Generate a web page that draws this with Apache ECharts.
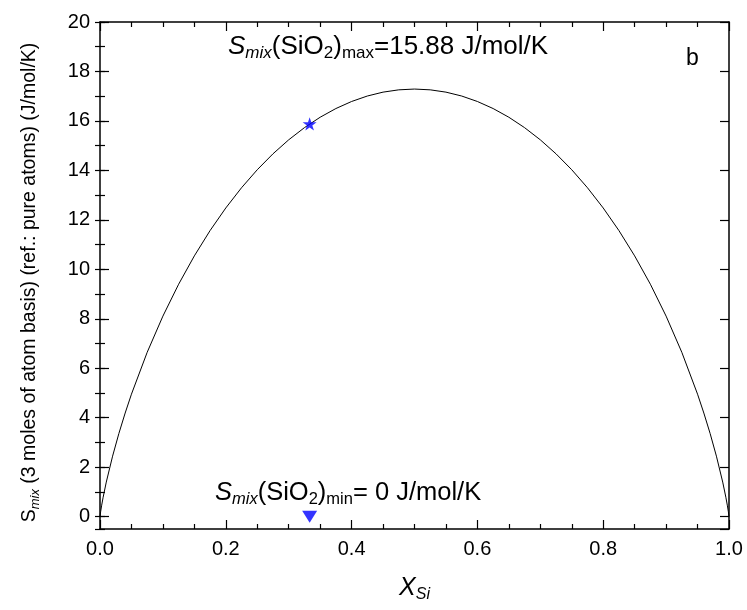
<!DOCTYPE html>
<html>
<head>
<meta charset="utf-8">
<script src="https://cdn.jsdelivr.net/npm/echarts@6/dist/echarts.min.js"></script>
<style>html,body{margin:0;padding:0;background:#fff}#c{width:747px;height:610px}</style>
</head>
<body>
<div id="c"></div>
<script>
// Ideal mixing entropy curve
const xSi = [0, 0.001, 0.0025, 0.005, 0.01, 0.02, 0.03, 0.04, 0.05, 0.075, 0.1, 0.125, 0.15, 0.175, 0.2, 0.225, 0.25, 0.275, 0.3, 0.325, 0.35, 0.375, 0.4, 0.425, 0.45, 0.475, 0.5,
  0.525, 0.55, 0.575, 0.6, 0.625, 0.65, 0.675, 0.7, 0.725, 0.75, 0.775, 0.8, 0.825, 0.85, 0.875, 0.9, 0.925, 0.95, 0.96, 0.97, 0.98, 0.99, 0.995, 0.9975, 0.999, 1];
const sMix = [0, 0.197, 0.436, 0.785, 1.397, 2.445, 3.361, 4.189, 4.951, 6.644, 8.108, 9.397, 10.543, 11.566, 12.481, 13.298, 14.026, 14.670, 15.236, 15.728, 16.149, 16.501, 16.786, 17.007, 17.164, 17.257, 17.289,
  17.257, 17.164, 17.007, 16.786, 16.501, 16.149, 15.728, 15.236, 14.670, 14.026, 13.298, 12.481, 11.566, 10.543, 9.397, 8.108, 6.644, 4.951, 4.189, 3.361, 2.445, 1.397, 0.785, 0.436, 0.197, 0];
// SiO2 composition markers
const markX = [0.3333];
const markMax = [15.88];
const markMin = [0];

const FONT = 'Liberation Sans, Arial, sans-serif';
const curve = xSi.map((x, i) => [x, sMix[i]]);
const starPath = 'path://M0,-100L22.45,-30.9L95.1,-30.9L36.3,11.8L58.8,80.9L0,38.2L-58.8,80.9L-36.3,11.8L-95.1,-30.9L-22.45,-30.9Z';

function richSet(main, sub) {
  return {
    S: {fontFamily: FONT, fontSize: main, fontStyle: 'italic', lineHeight: 30, verticalAlign: 'middle', color: '#000'},
    si: {fontFamily: FONT, fontSize: sub, fontStyle: 'italic', lineHeight: sub, verticalAlign: 'bottom', color: '#000'},
    n: {fontFamily: FONT, fontSize: main, lineHeight: 30, verticalAlign: 'middle', color: '#000'},
    sb: {fontFamily: FONT, fontSize: sub, lineHeight: sub, verticalAlign: 'bottom', color: '#000'}
  };
}

const tickLen = 9, minorLen = 5;
const axisLineStyle = {color: '#000', width: 1.5};
const tickStyle = {color: '#000', width: 1.2};

const chart = echarts.init(document.getElementById('c'), null, {renderer: 'canvas'});
chart.setOption({
  animation: false,
  backgroundColor: '#fff',
  grid: {left: 100, right: 18, top: 22, bottom: 81, containLabel: false},
  xAxis: [
    {
      type: 'value', position: 'bottom', min: 0, max: 1, interval: 0.2,
      axisLine: {show: true, onZero: false, lineStyle: axisLineStyle},
      axisTick: {show: true, inside: true, length: tickLen, lineStyle: tickStyle},
      minorTick: {show: true, splitNumber: 4, length: minorLen, lineStyle: tickStyle},
      splitLine: {show: false}, minorSplitLine: {show: false},
      axisLabel: {fontFamily: FONT, fontSize: 20, color: '#000', margin: 10, formatter: v => v.toFixed(1)},
      name: '{X|X}{s|Si}', nameLocation: 'middle', nameGap: 44,
      nameTextStyle: {rich: {
        X: {fontFamily: FONT, fontSize: 25, fontStyle: 'italic', color: '#000', lineHeight: 30, verticalAlign: 'middle'},
        s: {fontFamily: FONT, fontSize: 16, fontStyle: 'italic', color: '#000', lineHeight: 16, verticalAlign: 'bottom'}
      }}
    },
    {
      type: 'value', position: 'top', min: 0, max: 1, interval: 0.2,
      axisLine: {show: true, onZero: false, lineStyle: axisLineStyle},
      axisTick: {show: true, inside: true, length: tickLen, lineStyle: tickStyle},
      minorTick: {show: true, splitNumber: 4, length: minorLen, lineStyle: tickStyle},
      splitLine: {show: false}, axisLabel: {show: false}
    }
  ],
  yAxis: [
    {
      type: 'value', position: 'left', min: -0.5, max: 20, splitNumber: 10, minInterval: 2, maxInterval: 2,
      axisLine: {show: true, onZero: false, lineStyle: axisLineStyle},
      axisTick: {show: true, inside: true, length: tickLen, lineStyle: tickStyle},
      splitLine: {show: false},
      axisLabel: {fontFamily: FONT, fontSize: 20, color: '#000', margin: 10, showMinLabel: false,
        formatter: v => (v < 0 ? '' : String(v))},
      name: '{S|S}{m|mix}{t| (3 moles of atom basis) (ref.: pure atoms) (J/mol/K)}',
      nameLocation: 'middle', nameGap: 58, nameRotate: 90,
      nameTextStyle: {padding: [0, 14, 0, 0], rich: {
        S: {fontFamily: FONT, fontSize: 19.5, color: '#000', lineHeight: 24, verticalAlign: 'middle'},
        m: {fontFamily: FONT, fontSize: 13, fontStyle: 'italic', color: '#000', lineHeight: 13, verticalAlign: 'bottom'},
        t: {fontFamily: FONT, fontSize: 19.5, color: '#000', lineHeight: 24, verticalAlign: 'middle'}
      }}
    },
    {
      type: 'value', position: 'left', min: -0.5, max: 20, splitNumber: 20, minInterval: 1, maxInterval: 1,
      axisLine: {show: false},
      axisTick: {show: true, inside: true, length: minorLen, lineStyle: tickStyle},
      splitLine: {show: false}, axisLabel: {show: false}
    },
    {
      type: 'value', position: 'right', min: -0.5, max: 20, splitNumber: 10, minInterval: 2, maxInterval: 2,
      axisLine: {show: true, onZero: false, lineStyle: axisLineStyle},
      axisTick: {show: true, inside: true, length: tickLen, lineStyle: tickStyle},
      splitLine: {show: false}, axisLabel: {show: false}
    },
    {
      type: 'value', position: 'right', min: -0.5, max: 20, splitNumber: 20, minInterval: 1, maxInterval: 1,
      axisLine: {show: false},
      axisTick: {show: true, inside: true, length: minorLen, lineStyle: tickStyle},
      splitLine: {show: false}, axisLabel: {show: false}
    }
  ],
  series: [
    {
      type: 'line', xAxisIndex: 0, yAxisIndex: 0, data: curve, showSymbol: false, symbol: 'none',
      lineStyle: {color: '#000', width: 1}, smooth: false, z: 2
    },
    {
      type: 'scatter', xAxisIndex: 0, yAxisIndex: 0,
      data: markX.map((x, i) => [x, markMax[i]]),
      symbol: starPath, symbolSize: 14, symbolKeepAspect: true,
      itemStyle: {color: '#0000ff'}, z: 3
    },
    {
      type: 'scatter', xAxisIndex: 0, yAxisIndex: 0,
      data: markX.map((x, i) => [x, markMin[i]]),
      symbol: 'triangle', symbolRotate: 180, symbolSize: [15, 12],
      itemStyle: {color: '#0000ff'}, z: 3
    }
  ],
  graphic: [
    {
      type: 'text', left: 228, top: 34, z: 10,
      style: {text: '{S|S}{si|mix}{n|(SiO}{sb|2}{n|)}{sb|max}{n|=15.88 J/mol/K}', rich: richSet(26, 17)}
    },
    {
      type: 'text', left: 215, top: 480, z: 10,
      style: {text: '{S|S}{si|mix}{n|(SiO}{sb|2}{n|)}{sb|min}{n|= 0 J/mol/K}', rich: richSet(25.5, 16.5)}
    },
    {
      type: 'text', left: 686, top: 47, z: 10,
      style: {text: 'b', fontFamily: FONT, fontSize: 23, fill: '#000'}
    }
  ]
});
</script>
</body>
</html>
